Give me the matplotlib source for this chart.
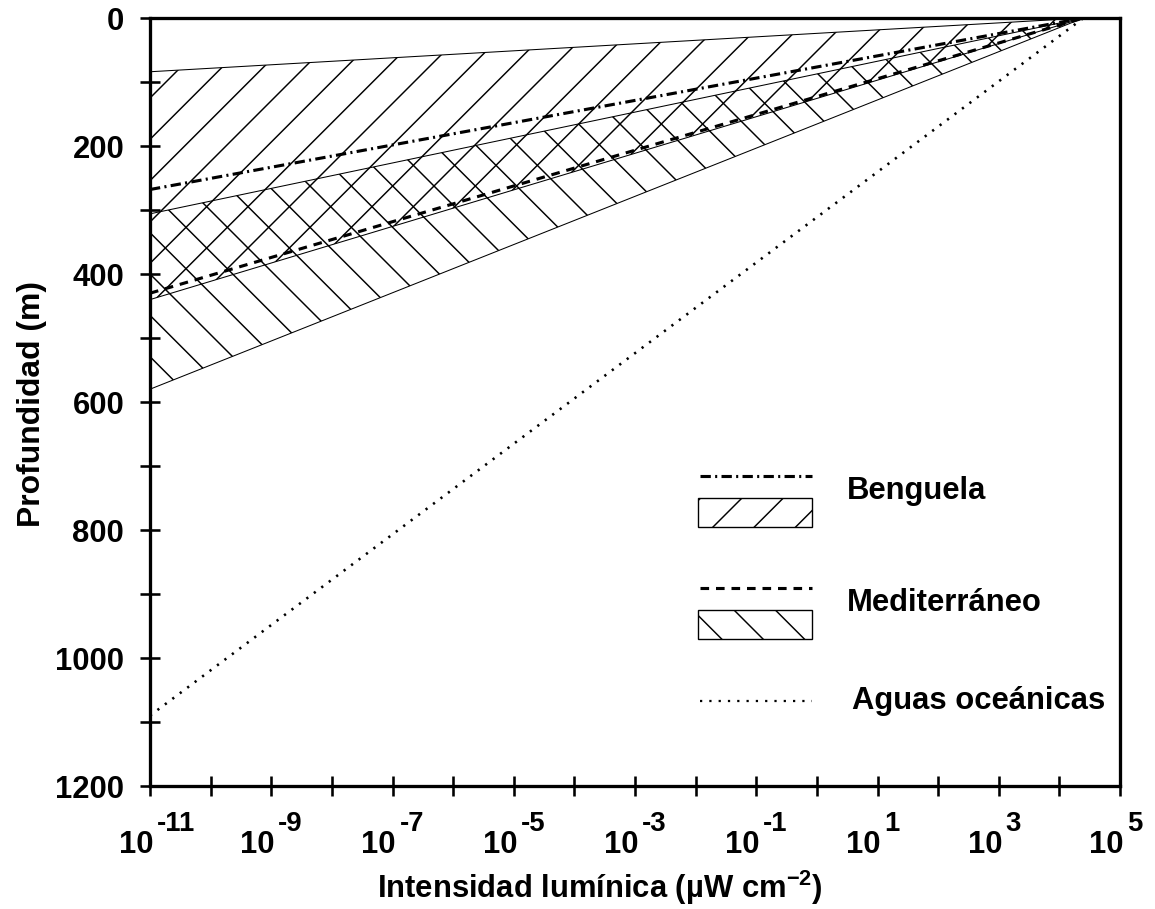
import matplotlib
matplotlib.use("Agg")
import matplotlib.pyplot as plt
from matplotlib.patches import Rectangle

# Intensidad (uW cm-2) en los extremos de cada perfil: fondo y superficie
intensidad = [1e-11, 2.5e4]

# Profundidad (m) en cada extremo
benguela_media = [268, 0]
benguela_sup = [84, 0]
benguela_inf = [440, 0]
medit_media = [430, 0]
medit_sup = [306, 0]
medit_inf = [580, 0]
oceanicas = [1090, 0]

y_ticks = list(range(0, 1201, 100))
y_labels = [str(v) if v % 200 == 0 else "" for v in y_ticks]
x_decadas = list(range(-11, 6))
x_etiquetas = list(range(-11, 6, 2))

DPI = 124
W, H = 1155, 909

plt.rcParams["font.family"] = ["Liberation Sans", "DejaVu Sans"]
plt.rcParams["font.weight"] = "bold"
plt.rcParams["hatch.linewidth"] = 0.85
plt.rcParams["hatch.color"] = "black"
plt.rcParams["lines.scale_dashes"] = False
plt.rcParams["mathtext.fontset"] = "custom"
plt.rcParams["mathtext.rm"] = "Liberation Sans:bold"
plt.rcParams["mathtext.it"] = "Liberation Sans:bold"
plt.rcParams["mathtext.bf"] = "Liberation Sans:bold"

fig = plt.figure(figsize=(W / DPI, H / DPI), dpi=DPI)
L, R, T, B = 150, 1120, 18, 786
ax = fig.add_axes([L / W, (H - B) / H, (R - L) / W, (B - T) / H])

ax.set_xscale("log")
ax.set_xlim(1e-11, 1e5)
ax.set_ylim(1200, 0)

# bandas rayadas
ax.fill_between(intensidad, benguela_sup, benguela_inf, facecolor="none",
                edgecolor="black", hatch="/", linewidth=0, zorder=1)
ax.fill_between(intensidad, medit_sup, medit_inf, facecolor="none",
                edgecolor="black", hatch="\\", linewidth=0, zorder=1)
for borde in (benguela_sup, benguela_inf, medit_sup, medit_inf):
    ax.plot(intensidad, borde, color="black", lw=0.6, zorder=2)

dashdot = (0, (6, 2.5, 1.2, 2.5))
dashed = (0, (5, 4))
dotted = (0, (1.3, 4.1))
ax.plot(intensidad, benguela_media, color="black", lw=1.8, ls=dashdot, zorder=3)
ax.plot(intensidad, medit_media, color="black", lw=1.8, ls=dashed, zorder=3)
ax.plot(intensidad, oceanicas, color="black", lw=1.5, ls=dotted, zorder=3)

# ejes
for s in ax.spines.values():
    s.set_linewidth(1.9)
ax.set_yticks(y_ticks)
ax.set_yticklabels(y_labels, fontsize=18, fontweight="bold")
ax.set_xticks([10.0 ** e for e in x_decadas])
ax.set_xticklabels([""] * len(x_decadas))
ax.xaxis.set_minor_locator(matplotlib.ticker.NullLocator())
ax.tick_params(direction="inout", length=12, width=1.5, pad=9)

for e in x_etiquetas:
    ax.annotate("10", xy=(10.0 ** e, 0), xycoords=("data", "axes fraction"),
                xytext=(2, -34), textcoords="offset points",
                ha="right", va="center", fontsize=18, fontweight="bold")
    ax.annotate(str(e), xy=(10.0 ** e, 0),
                xycoords=("data", "axes fraction"),
                xytext=(4, -22), textcoords="offset points",
                ha="left", va="center", fontsize=16, fontweight="bold")

fig.text(600 / W, 1 - 898 / H, "Intensidad lumínica (µW cm$^{-2}$)",
         ha="center", va="baseline", fontsize=18, fontweight="bold")
fig.text(32 / W, 1 - 404 / H, "Profundidad (m)", rotation=90,
         ha="center", va="center", fontsize=18.5, fontweight="bold")


# leyenda, en pixeles de la figura
def fx(px):
    return px / W


def fy(py):
    return 1 - py / H


x0, x1 = 700, 812
fig.add_artist(plt.Line2D([fx(x0), fx(x1)], [fy(476)] * 2, color="black",
                          lw=1.8, ls=dashdot))
fig.add_artist(Rectangle((fx(698), fy(527)), fx(812) - fx(698), fy(498) - fy(527),
                         facecolor="none", edgecolor="black", lw=0.8, hatch="/"))
fig.text(fx(847), fy(491), "Benguela", ha="left", va="center", fontsize=18)

fig.add_artist(plt.Line2D([fx(x0), fx(x1)], [fy(588)] * 2, color="black",
                          lw=1.8, ls=dashed))
fig.add_artist(Rectangle((fx(698), fy(639)), fx(812) - fx(698), fy(610) - fy(639),
                         facecolor="none", edgecolor="black", lw=0.8, hatch="\\"))
fig.text(fx(847), fy(603), "Mediterráneo", ha="left", va="center", fontsize=18)

fig.add_artist(plt.Line2D([fx(x0), fx(x1)], [fy(701)] * 2, color="black",
                          lw=1.3, ls=dotted))
fig.text(fx(852), fy(701), "Aguas oceánicas", ha="left", va="center", fontsize=18)

fig.savefig("out.png", dpi=DPI)
